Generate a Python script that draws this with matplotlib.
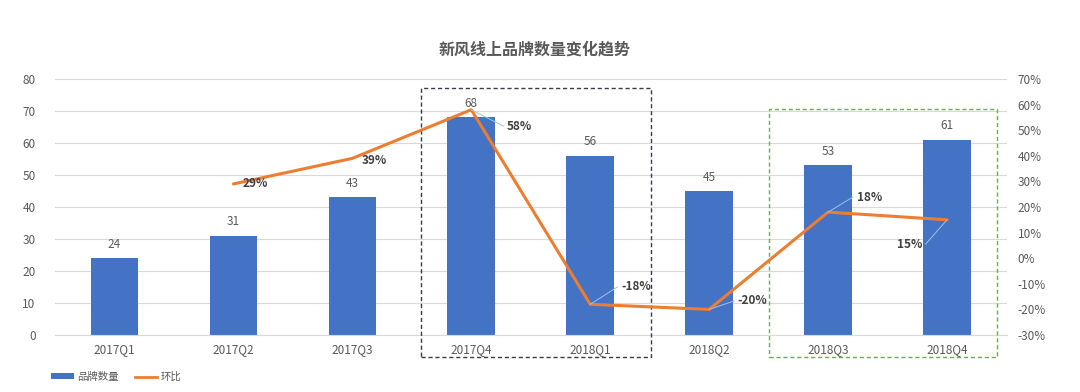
import matplotlib
matplotlib.use("Agg")
import matplotlib.pyplot as plt
from matplotlib.patches import Rectangle, Patch
from matplotlib.lines import Line2D

plt.rcParams['font.family'] = ['Noto Sans CJK SC', 'DejaVu Sans']

categories = ["2017Q1", "2017Q2", "2017Q3", "2017Q4", "2018Q1", "2018Q2", "2018Q3", "2018Q4"]
brand_counts = [24, 31, 43, 68, 56, 45, 53, 61]
qoq_idx = [1, 2, 3, 4, 5, 6, 7]
qoq_pct = [29, 39, 58, -18, -20, 18, 15]
left_ticks = [0, 10, 20, 30, 40, 50, 60, 70, 80]
right_ticks = [-30, -20, -10, 0, 10, 20, 30, 40, 50, 60, 70]

BLUE = "#4472C4"
ORANGE = "#ED7D31"
GRAY = "#595959"

fig = plt.figure(figsize=(10.8, 3.92), dpi=100)
ax = fig.add_axes([55/1080, 1-335/392, (1006.5-55)/1080, (335-79)/392])
ax2 = ax.twinx()

x = list(range(len(categories)))
ax.bar(x, brand_counts, width=0.4, color=BLUE, zorder=2)
ax.set_xlim(-0.5, len(categories) - 0.5)
ax.set_ylim(0, 80)
ax.set_yticks(left_ticks)
ax.set_yticklabels([str(t) for t in left_ticks])
ax.set_xticks(x)
ax.set_xticklabels(categories)
ax.grid(axis='y', color="#D9D9D9", linewidth=0.8, zorder=0)
ax.set_axisbelow(True)
for s in ["top", "right", "left"]:
    ax.spines[s].set_visible(False)
ax.spines["bottom"].set_color("#D9D9D9")
ax.tick_params(axis='both', length=0, colors=GRAY, labelsize=8.5)
ax.tick_params(axis='x', pad=6)
ax.tick_params(axis='y', pad=14)

for xi, v in zip(x, brand_counts):
    ax.text(xi, v + 2.3, str(v), ha='center', va='bottom', fontsize=8.5, color=GRAY, zorder=5)

ax2.plot(qoq_idx, qoq_pct, color=ORANGE, linewidth=2.2, zorder=3, solid_capstyle='round')
ax2.set_ylim(-30, 70)
ax2.set_yticks(right_ticks)
ax2.set_yticklabels([f"{t}%" for t in right_ticks])
for s in ["top", "right", "left", "bottom"]:
    ax2.spines[s].set_visible(False)
ax2.tick_params(axis='y', length=0, colors=GRAY, labelsize=8.5, pad=8)

# percentage labels: (dx in categories, dy in pct) offsets, leader line flag
label_offsets = [(0.08, 0.0, False), (0.08, -1.0, False), (0.30, -6.4, True),
                 (0.26, 6.8, True), (0.24, 3.3, True), (0.24, 5.9, True), (-0.21, -9.5, True)]
for (xi, v), (dx, dy, lead) in zip(zip(qoq_idx, qoq_pct), label_offsets):
    tx, ty = xi + dx, v + dy
    if lead:
        ax2.plot([xi, tx - (0.03 if dx > 0 else -0.03)], [v, ty], color="#9DC3E6", linewidth=0.7, zorder=4)
    ax2.text(tx, ty, f"{v}%", ha='left' if dx > 0 else 'right', va='center',
             fontsize=8.5, fontweight='bold', color="#404040", zorder=6)

# dashed highlight boxes
ax.add_patch(Rectangle((2.58, -6.9), 4.51 - 2.58, 77.2 + 6.9, fill=False, linestyle=(0, (3, 2)),
                       edgecolor="#3A3A4A", linewidth=1.0, clip_on=False, zorder=7))
ax.add_patch(Rectangle((5.50, -6.9), 7.42 - 5.50, 70.6 + 6.9, fill=False, linestyle=(0, (3, 2)),
                       edgecolor="#70AD47", linewidth=1.0, clip_on=False, zorder=7))

fig.text(535/1080, 1-50/392, "新风线上品牌数量变化趋势", ha='center', va='center',
         fontsize=11.5, fontweight='bold', color=GRAY)

handles = [Patch(facecolor=BLUE, edgecolor='none'), Line2D([0], [0], color=ORANGE, linewidth=2)]
fig.legend(handles, ["品牌数量", "环比"], loc='center left', bbox_to_anchor=(42/1080, 1-377/392),
           ncol=2, frameon=False, fontsize=7.5, handlelength=2.2, handleheight=0.5,
           columnspacing=1.5, handletextpad=0.3, labelcolor=GRAY)

fig.savefig("out.png", dpi=100, facecolor="white")
